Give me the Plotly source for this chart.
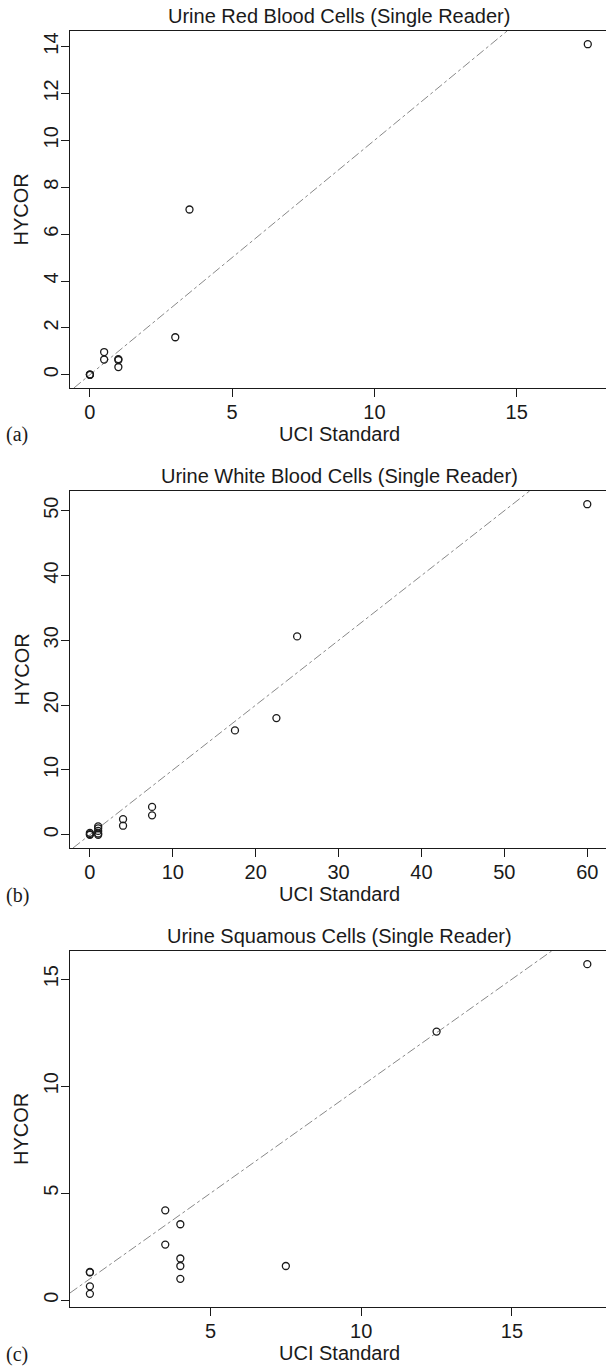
import plotly.graph_objects as go

# ---------------- data ----------------
# Panel (a): Urine Red Blood Cells
rbc_uci = [0, 0, 0, 0.5, 0.5, 1, 1, 1, 3, 3.5, 17.5]
rbc_hycor = [0, 0.02, 0, 0.97, 0.65, 0.63, 0.67, 0.33, 1.6, 7.05, 14.1]

# Panel (b): Urine White Blood Cells
wbc_uci = [0, 0, 0, 1, 1, 1, 1, 1, 4, 4, 7.5, 7.5, 17.5, 22.5, 25, 60]
wbc_hycor = [0.3, 0.1, 0.0, 1.3, 1.0, 0.6, 0.2, 0.0, 2.4, 1.4, 4.3, 3.0, 16.1, 18.0, 30.6, 51.0]

# Panel (c): Urine Squamous Cells
sq_uci = [1, 1, 1, 1, 3.5, 3.5, 4, 4, 4, 4, 7.5, 12.5, 17.5]
sq_hycor = [1.3, 1.32, 0.65, 0.3, 4.2, 2.6, 3.55, 1.95, 1.6, 1.0, 1.6, 12.55, 15.7]

titles = ["Urine Red Blood Cells (Single Reader)",
          "Urine White Blood Cells (Single Reader)",
          "Urine Squamous Cells (Single Reader)"]
panel_labels = ["(a)", "(b)", "(c)"]
x_title = "UCI Standard"
y_title = "HYCOR"

xticks = [[0, 5, 10, 15], [0, 10, 20, 30, 40, 50, 60], [5, 10, 15]]
yticks = [[0, 2, 4, 6, 8, 10, 12, 14], [0, 10, 20, 30, 40, 50], [0, 5, 10, 15]]

# ---------------- layout geometry ----------------
W, H = 606, 1367
LEFT = 70
boxes = [(31, 388), (491, 848), (951, 1307)]          # top, bottom in px
xranges = [[-0.7, 18.14], [-2.4, 62.26], [0.34, 18.12]]
yranges = [[-0.564, 14.664], [-2.04, 53.04], [-0.316, 16.316]]

FONT = "Liberation Sans, Arial, Helvetica, sans-serif"
SERIF = "Liberation Serif, Times New Roman, serif"
INK = "#1a1a1a"

fig = go.Figure()
datasets = [(rbc_uci, rbc_hycor), (wbc_uci, wbc_hycor), (sq_uci, sq_hycor)]

annotations = []
for i, ((xs, ys), (top, bot)) in enumerate(zip(datasets, boxes)):
    n = "" if i == 0 else str(i + 1)
    xa, ya = "x" + n, "y" + n
    xr, yr = xranges[i], yranges[i]
    lo = max(xr[0], yr[0])
    hi = min(xr[1], yr[1])
    # identity reference line
    fig.add_trace(go.Scatter(x=[lo, hi], y=[lo, hi], mode="lines",
                             line=dict(color="#7a7a7a", width=0.9, dash="dashdot"),
                             xaxis=xa, yaxis=ya, showlegend=False, hoverinfo="skip"))
    fig.add_trace(go.Scatter(x=xs, y=ys, mode="markers",
                             marker=dict(symbol="circle-open", size=7,
                                         color=INK, line=dict(width=1.3, color=INK)),
                             xaxis=xa, yaxis=ya, showlegend=False))
    ydom = [1 - bot / H, 1 - top / H]
    xdom = [LEFT / W, 1.0]
    axis_common = dict(showgrid=False, zeroline=False, showline=True,
                       linecolor=INK, linewidth=1, ticks="outside", ticklen=8,
                       tickwidth=1, tickcolor=INK,
                       tickfont=dict(family=FONT, size=20, color=INK))
    fig.update_layout(**{
        "xaxis" + n: dict(domain=xdom, range=xr, anchor=ya, mirror=True,
                          tickvals=xticks[i], ticktext=[str(t) for t in xticks[i]],
                          ticklabelstandoff=-2,
                          **axis_common),
        "yaxis" + n: dict(domain=ydom, range=yr, anchor=xa, mirror=False,
                          tickvals=yticks[i], ticktext=[str(t) for t in yticks[i]],
                          tickangle=-90, ticklabelstandoff=-5, **axis_common),
    })
    cx = (LEFT + 608) / 2 / W
    annotations.append(dict(text=titles[i], x=cx, y=1 - (top - 15) / H,
                            xref="paper", yref="paper", xanchor="center", yanchor="middle",
                            showarrow=False, font=dict(family=FONT, size=20, color=INK)))
    xt_off = 46
    annotations.append(dict(text=x_title, x=cx, y=1 - (bot + xt_off) / H,
                            xref="paper", yref="paper", xanchor="center", yanchor="middle",
                            showarrow=False, font=dict(family=FONT, size=20, color=INK)))
    annotations.append(dict(text=y_title, x=21 / W, y=1 - (top + bot) / 2 / H,
                            xref="paper", yref="paper", xanchor="center", yanchor="middle",
                            textangle=-90,
                            showarrow=False, font=dict(family=FONT, size=20, color=INK)))
    annotations.append(dict(text=panel_labels[i], x=4 / W, y=1 - (bot + xt_off + 1) / H,
                            xref="paper", yref="paper", xanchor="left", yanchor="middle",
                            showarrow=False, font=dict(family=SERIF, size=20, color=INK)))

fig.update_layout(width=W, height=H, margin=dict(l=0, r=0, t=0, b=0),
                  paper_bgcolor="white", plot_bgcolor="white",
                  annotations=annotations, showlegend=False)

fig.write_html("out.html")
